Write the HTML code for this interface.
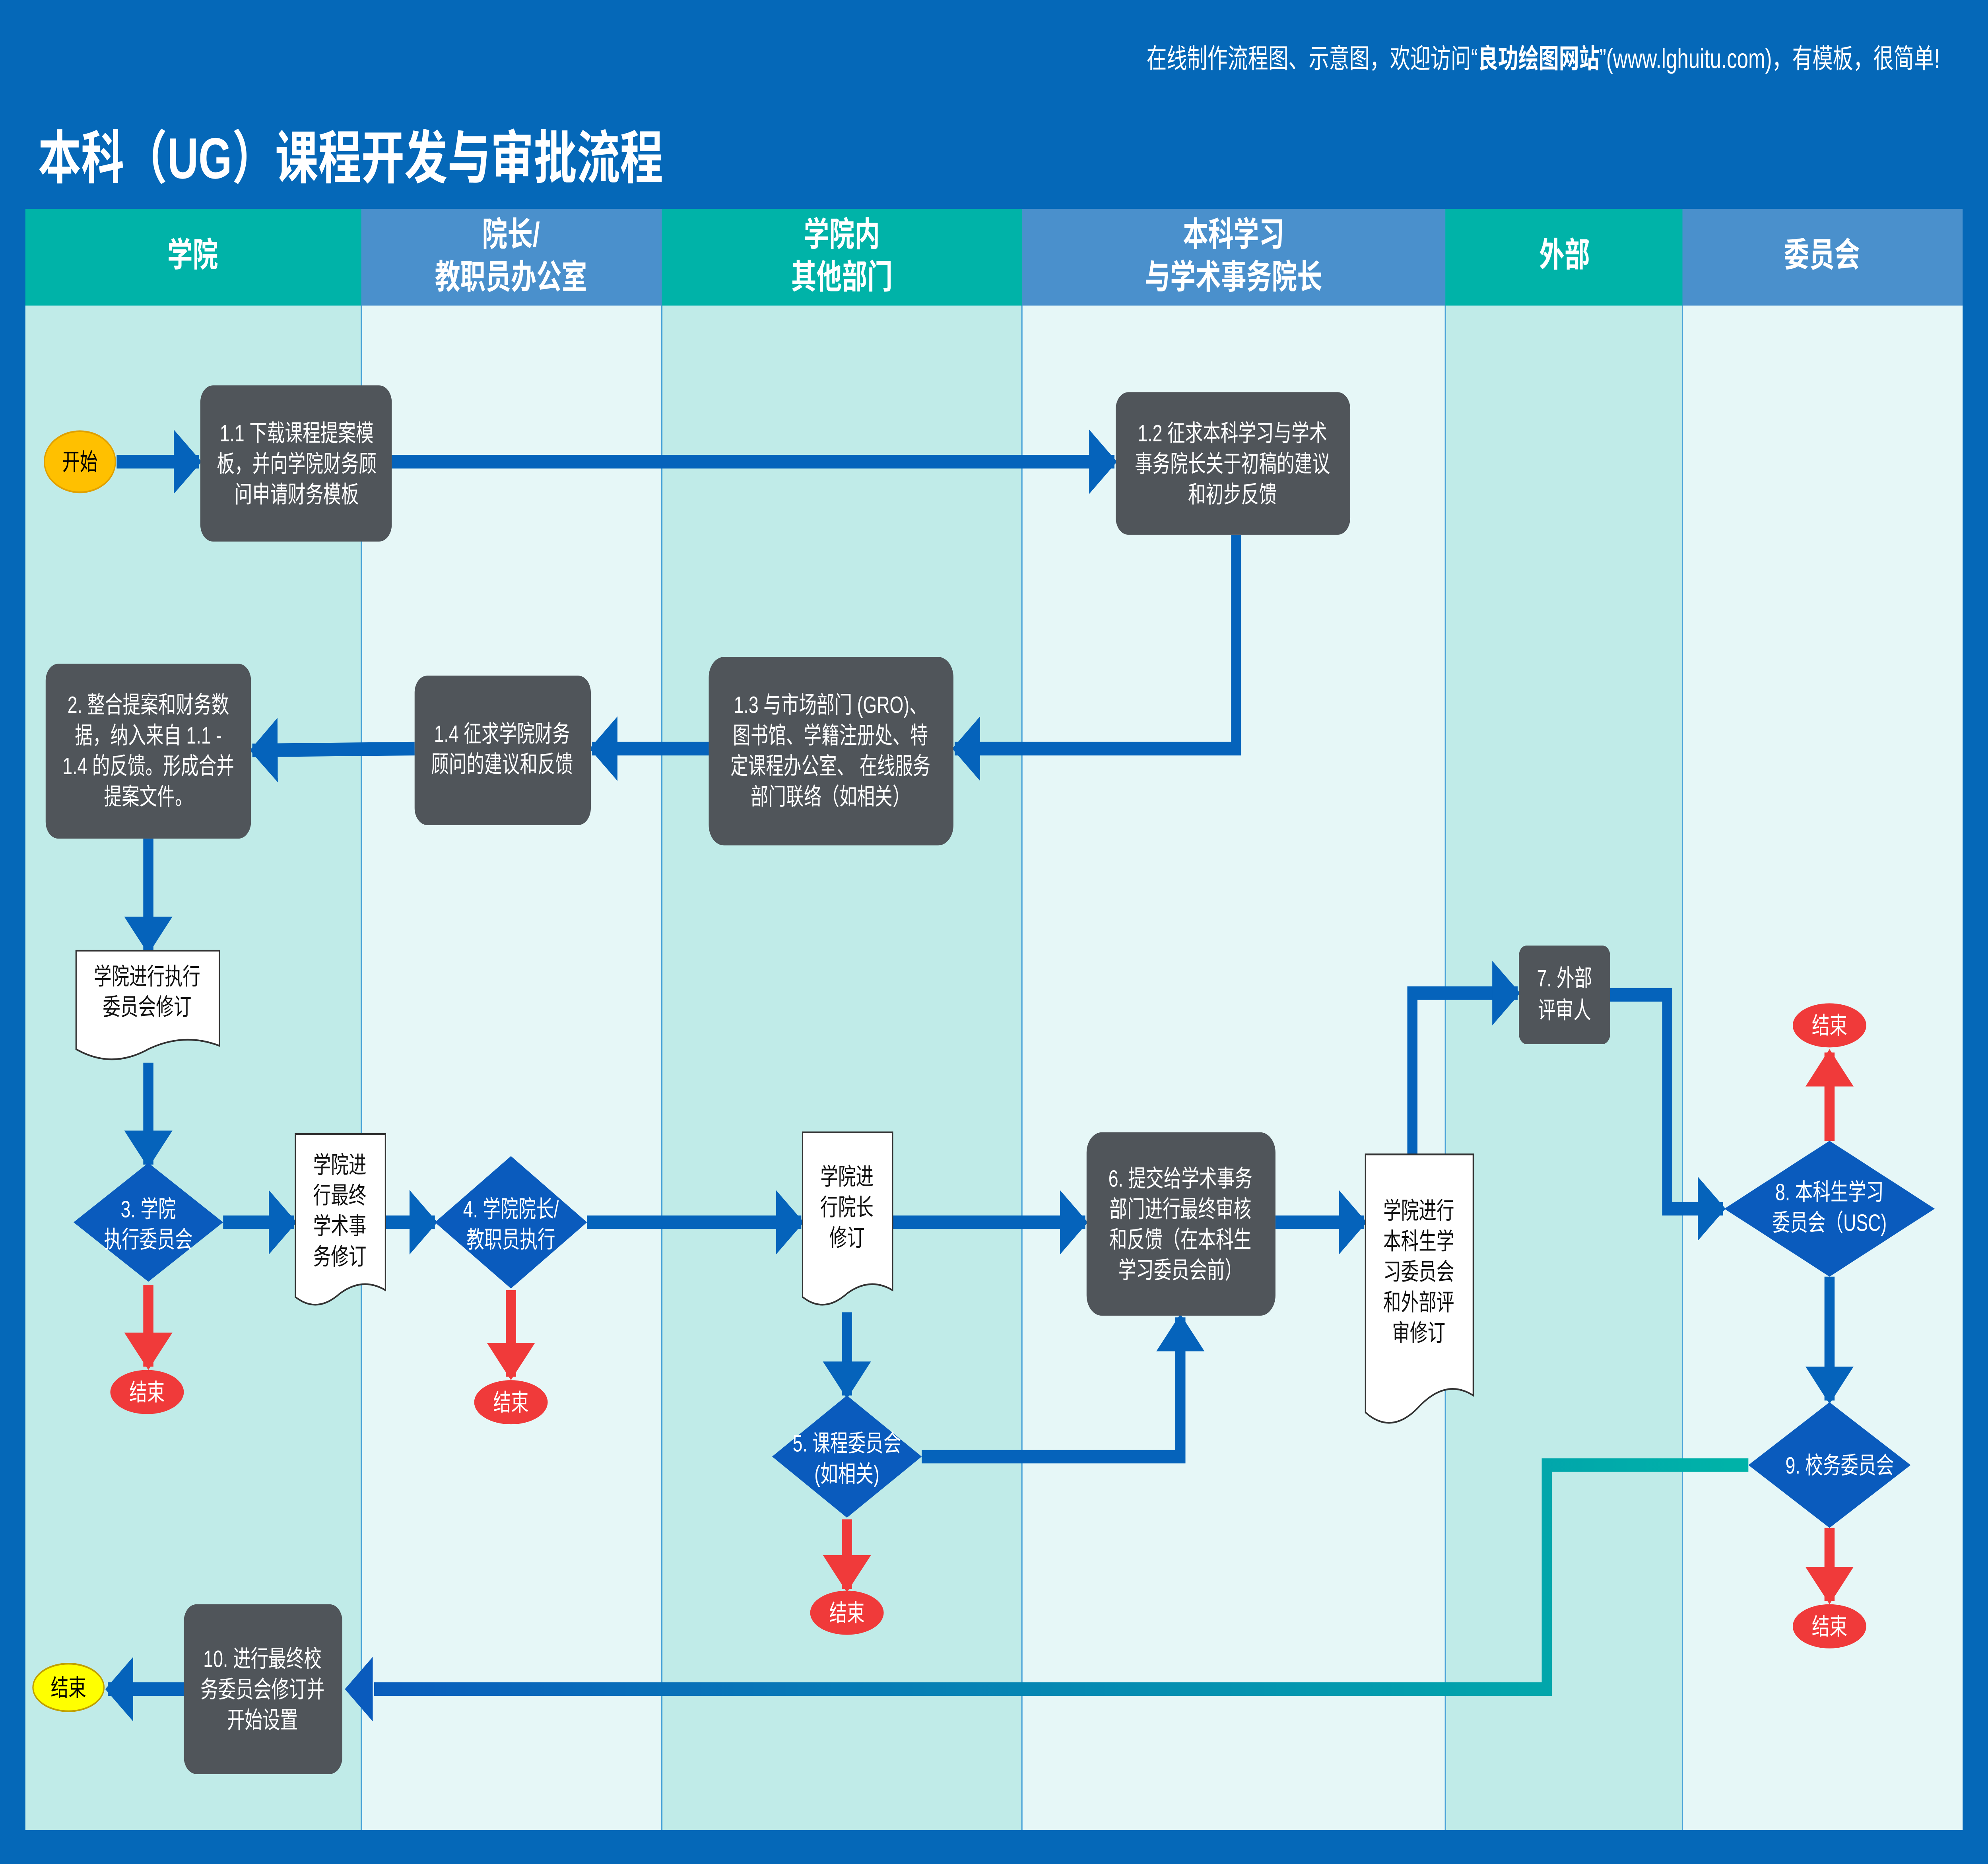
<!DOCTYPE html>
<html><head><meta charset="utf-8"><style>html,body{margin:0;padding:0;background:#0568b8;width:100%;height:100%;overflow:hidden}svg{display:block;position:fixed;left:0;top:0;width:100vw;height:100vh}</style></head>
<body>
<svg xmlns="http://www.w3.org/2000/svg" viewBox="0 0 1568 1098" preserveAspectRatio="none" font-family="Liberation Sans, Noto Sans CJK SC, sans-serif">
<defs>
<marker id="a" markerUnits="userSpaceOnUse" markerWidth="22" markerHeight="38" refX="20" refY="19" orient="auto"><path d="M0,0 L22,19 L0,38 Z" fill="#0563bb"/></marker>
<marker id="r" markerUnits="userSpaceOnUse" markerWidth="22" markerHeight="38" refX="20" refY="19" orient="auto"><path d="M0,0 L22,19 L0,38 Z" fill="#f03a3a"/></marker>
<linearGradient id="g" x1="272" y1="0" x2="1379" y2="0" gradientUnits="userSpaceOnUse"><stop offset="0" stop-color="#0a5bbd"/><stop offset="1" stop-color="#00b3a8"/></linearGradient>
</defs>
<rect width="1568" height="1098" fill="#0568b8"/>
<text x="1530" y="40" font-size="16" fill="#fff" text-anchor="end">在线制作流程图、示意图，欢迎访问“<tspan font-weight="bold">良功绘图网站</tspan>”(www.lghuitu.com)，有模板，很简单!</text>
<text x="30" y="105" font-size="34" font-weight="bold" fill="#fff">本科（UG）课程开发与审批流程</text>
<rect x="20" y="180" width="265" height="898" fill="#c0ebe8"/>
<rect x="285" y="180" width="237" height="898" fill="#e6f7f7"/>
<rect x="522" y="180" width="284" height="898" fill="#c0ebe8"/>
<rect x="806" y="180" width="334" height="898" fill="#e6f7f7"/>
<rect x="1140" y="180" width="187" height="898" fill="#c0ebe8"/>
<rect x="1327" y="180" width="221" height="898" fill="#e6f7f7"/>
<g stroke="#4aa3d8" stroke-width="1"><line x1="285" y1="123" x2="285" y2="1078"/><line x1="522" y1="123" x2="522" y2="1078"/><line x1="806" y1="123" x2="806" y2="1078"/><line x1="1140" y1="123" x2="1140" y2="1078"/><line x1="1327" y1="123" x2="1327" y2="1078"/></g>
<rect x="20" y="123" width="265" height="57" fill="#00b3a8"/>
<rect x="285" y="123" width="237" height="57" fill="#4a90cc"/>
<rect x="522" y="123" width="284" height="57" fill="#00b3a8"/>
<rect x="806" y="123" width="334" height="57" fill="#4a90cc"/>
<rect x="1140" y="123" width="187" height="57" fill="#00b3a8"/>
<rect x="1327" y="123" width="221" height="57" fill="#4a90cc"/>
<g fill="#fff" font-size="20" font-weight="bold" text-anchor="middle">
<text x="152" y="157">学院</text>
<text x="403" y="145">院长/</text><text x="403" y="170">教职员办公室</text>
<text x="664" y="145">学院内</text><text x="664" y="170">其他部门</text>
<text x="973" y="145">本科学习</text><text x="973" y="170">与学术事务院长</text>
<text x="1234" y="157">外部</text>
<text x="1437" y="157">委员会</text>
</g>
<g fill="none" stroke="#0563bb" stroke-width="8" marker-end="url(#a)">
<line x1="92" y1="272" x2="157" y2="272"/>
<line x1="309" y1="272" x2="879" y2="272"/>
<polyline points="975,315 975,441 753,441"/>
<line x1="559" y1="441" x2="467" y2="441"/>
<line x1="327" y1="441" x2="199" y2="442"/>
<line x1="117" y1="494" x2="117" y2="560"/>
<line x1="117" y1="626" x2="117" y2="686"/>
<line x1="176" y1="720" x2="232" y2="720"/>
<line x1="304" y1="720" x2="343" y2="720"/>
<line x1="463" y1="720" x2="632" y2="720"/>
<line x1="704" y1="720" x2="856" y2="720"/>
<line x1="668" y1="773" x2="668" y2="822"/>
<polyline points="727,858 931,858 931,776"/>
<line x1="1006" y1="720" x2="1076" y2="720"/>
<polyline points="1114,680 1114,585 1197,585"/>
<polyline points="1270,586 1315,586 1315,712 1359,712"/>
<line x1="1443" y1="752" x2="1443" y2="825"/>
<line x1="145" y1="995" x2="85" y2="995"/>
</g>
<polyline points="1379,863 1220,863 1220,995 295,995" fill="none" stroke="url(#g)" stroke-width="8"/>
<path d="M272,995 L294,976 L294,1014 Z" fill="#0a5bbd"/>
<g fill="none" stroke="#f03a3a" stroke-width="8" marker-end="url(#r)">
<line x1="117" y1="757" x2="117" y2="805"/>
<line x1="403" y1="760" x2="403" y2="811"/>
<line x1="668" y1="895" x2="668" y2="936"/>
<line x1="1443" y1="672" x2="1443" y2="620"/>
<line x1="1443" y1="900" x2="1443" y2="943"/>
</g>
<g fill="#50555a">
<rect x="158" y="227" width="151" height="92" rx="10"/>
<rect x="880" y="231" width="185" height="84" rx="10"/>
<rect x="559" y="387" width="193" height="111" rx="12"/>
<rect x="327" y="398" width="139" height="88" rx="10"/>
<rect x="36" y="391" width="162" height="103" rx="10"/>
<rect x="857" y="667" width="149" height="108" rx="12"/>
<rect x="1198" y="557" width="72" height="58" rx="6"/>
<rect x="145" y="945" width="125" height="100" rx="10"/>
</g>
<g fill="#0a5bbd">
<polygon points="58,720 117,685 176,720 117,755"/>
<polygon points="343,720 403,681 463,720 403,759"/>
<polygon points="609,858 668,822 727,858 668,894"/>
<polygon points="1360,712 1443,672 1526,712 1443,752"/>
<polygon points="1379,863 1443,826 1507,863 1443,900"/>
</g>
<g fill="#fff" stroke="#333" stroke-width="1">
<path d="M60,560 H173 V616 Q145,608 117,618 Q88,630 60,618 Z"/>
<path d="M233,668 H304 V760 Q286,752 268,762 Q250,774 233,764 Z"/>
<path d="M633,667 H704 V760 Q686,752 668,762 Q650,774 633,764 Z"/>
<path d="M1077,680 H1162 V822 Q1141,812 1120,828 Q1098,846 1077,832 Z"/>
</g>
<ellipse cx="63" cy="272" rx="28" ry="18" fill="#ffc000" stroke="#e0a000"/>
<ellipse cx="54" cy="994" rx="28" ry="14" fill="#ffff00" stroke="#c0a000"/>
<g fill="#f03a3a"><ellipse cx="116" cy="820" rx="29" ry="13"/><ellipse cx="403" cy="826" rx="29" ry="13"/><ellipse cx="668" cy="950" rx="29" ry="13"/><ellipse cx="1443" cy="604" rx="29" ry="13"/><ellipse cx="1443" cy="958" rx="29" ry="13"/></g>
<g font-size="14" text-anchor="middle">
<text x="63" y="277">开始</text><text x="54" y="999">结束</text>
<g fill="#fff"><text x="116" y="825">结束</text><text x="403" y="831">结束</text><text x="668" y="955">结束</text><text x="1443" y="609">结束</text><text x="1443" y="963">结束</text></g>
</g>
<g font-size="14" fill="#fff" text-anchor="middle">
<text x="234" y="260">1.1 下载课程提案模</text><text x="234" y="278">板，并向学院财务顾</text><text x="234" y="296">问申请财务模板</text>
<text x="972" y="260">1.2 征求本科学习与学术</text><text x="972" y="278">事务院长关于初稿的建议</text><text x="972" y="296">和初步反馈</text>
<text x="655" y="420">1.3 与市场部门 (GRO)、</text><text x="655" y="438">图书馆、学籍注册处、特</text><text x="655" y="456">定课程办公室、 在线服务</text><text x="655" y="474">部门联络（如相关）</text>
<text x="396" y="437">1.4 征求学院财务</text><text x="396" y="455">顾问的建议和反馈</text>
<text x="117" y="420">2. 整合提案和财务数</text><text x="117" y="438">据，纳入来自 1.1 -</text><text x="117" y="456">1.4 的反馈。形成合并</text><text x="117" y="474">提案文件。</text>
<text x="931" y="699">6. 提交给学术事务</text><text x="931" y="717">部门进行最终审核</text><text x="931" y="735">和反馈（在本科生</text><text x="931" y="753">学习委员会前）</text>
<text x="1234" y="581">7. 外部</text><text x="1234" y="600">评审人</text>
<text x="207" y="982">10. 进行最终校</text><text x="207" y="1000">务委员会修订并</text><text x="207" y="1018">开始设置</text>
<text x="117" y="717">3. 学院</text><text x="117" y="735">执行委员会</text>
<text x="403" y="717">4. 学院院长/</text><text x="403" y="735">教职员执行</text>
<text x="668" y="855">5. 课程委员会</text><text x="668" y="873">(如相关)</text>
<text x="1443" y="707">8. 本科生学习</text><text x="1443" y="725">委员会（USC)</text>
<text x="1451" y="868">9. 校务委员会</text>
</g>
<g font-size="14" fill="#111" text-anchor="middle">
<text x="116" y="580">学院进行执行</text><text x="116" y="598">委员会修订</text>
<text x="268" y="691">学院进</text><text x="268" y="709">行最终</text><text x="268" y="727">学术事</text><text x="268" y="745">务修订</text>
<text x="668" y="698">学院进</text><text x="668" y="716">行院长</text><text x="668" y="734">修订</text>
<text x="1119" y="718">学院进行</text><text x="1119" y="736">本科生学</text><text x="1119" y="754">习委员会</text><text x="1119" y="772">和外部评</text><text x="1119" y="790">审修订</text>
</g>
</svg>
</body></html>
